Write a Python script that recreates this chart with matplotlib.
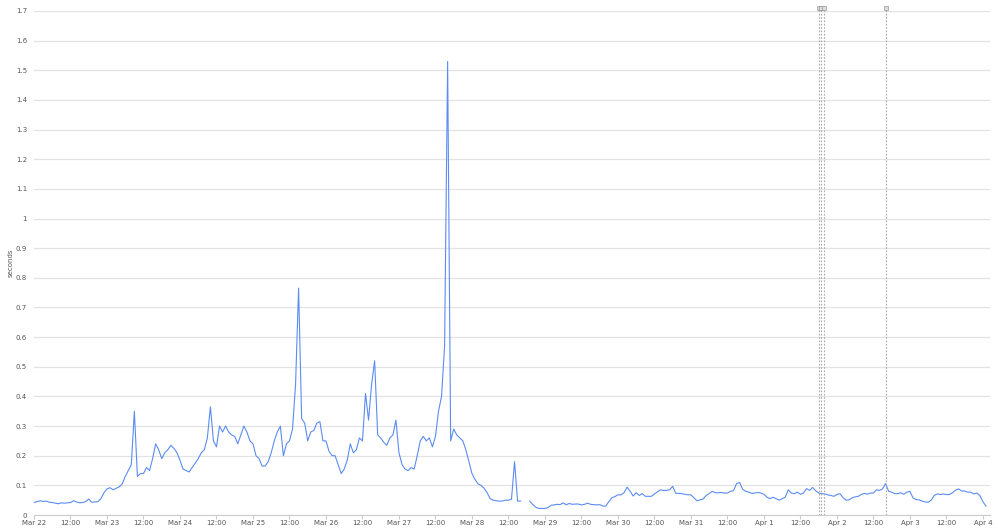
import numpy as np
import pandas as pd
import matplotlib
matplotlib.use("Agg")
import matplotlib.pyplot as plt
import matplotlib.dates as mdates
from matplotlib.ticker import FuncFormatter

nan = np.nan
# hourly response time (seconds), starting Mar 22 00:00
mar22 = [0.042, 0.045, 0.048, 0.046, 0.047, 0.043, 0.042, 0.040, 0.038, 0.041, 0.040, 0.041,
         0.042, 0.048, 0.044, 0.041, 0.042, 0.045, 0.054, 0.043, 0.044, 0.045, 0.055, 0.075]
mar23 = [0.088, 0.092, 0.085, 0.090, 0.095, 0.105, 0.130, 0.150, 0.170, 0.350, 0.130, 0.140,
         0.140, 0.160, 0.150, 0.190, 0.240, 0.220, 0.190, 0.210, 0.220, 0.235, 0.225, 0.210]
mar24 = [0.185, 0.155, 0.150, 0.145, 0.160, 0.175, 0.190, 0.210, 0.220, 0.260, 0.365, 0.250,
         0.230, 0.300, 0.280, 0.300, 0.280, 0.270, 0.265, 0.240, 0.270, 0.300, 0.280, 0.250]
mar25 = [0.240, 0.200, 0.190, 0.165, 0.165, 0.180, 0.210, 0.250, 0.280, 0.300, 0.200, 0.240,
         0.250, 0.290, 0.440, 0.765, 0.325, 0.310, 0.250, 0.280, 0.285, 0.310, 0.315, 0.250]
mar26 = [0.250, 0.215, 0.200, 0.200, 0.170, 0.140, 0.155, 0.185, 0.240, 0.210, 0.220, 0.260,
         0.250, 0.410, 0.320, 0.440, 0.520, 0.270, 0.260, 0.245, 0.235, 0.260, 0.270, 0.320]
mar27 = [0.210, 0.170, 0.155, 0.150, 0.160, 0.155, 0.200, 0.250, 0.265, 0.250, 0.260, 0.230,
         0.265, 0.350, 0.400, 0.570, 1.530, 0.250, 0.290, 0.270, 0.260, 0.250, 0.220, 0.180]
mar28 = [0.140, 0.120, 0.105, 0.100, 0.090, 0.075, 0.055, 0.050, 0.048, 0.047, 0.047, 0.050,
         0.050, 0.053, 0.180, 0.047, 0.047, nan, nan, 0.047, 0.035, 0.026, 0.022, 0.022]
mar29 = [0.022, 0.025, 0.033, 0.034, 0.036, 0.035, 0.041, 0.034, 0.039, 0.036, 0.037, 0.037,
         0.034, 0.036, 0.040, 0.036, 0.035, 0.034, 0.035, 0.030, 0.030, 0.045, 0.058, 0.062]
mar30 = [0.068, 0.068, 0.075, 0.094, 0.080, 0.064, 0.075, 0.066, 0.072, 0.063, 0.063, 0.063,
         0.071, 0.078, 0.085, 0.083, 0.083, 0.085, 0.097, 0.073, 0.073, 0.072, 0.070, 0.068]
mar31 = [0.068, 0.058, 0.048, 0.051, 0.054, 0.066, 0.072, 0.080, 0.075, 0.075, 0.076, 0.074,
         0.074, 0.080, 0.082, 0.106, 0.110, 0.087, 0.080, 0.077, 0.073, 0.074, 0.076, 0.074]
apr01 = [0.070, 0.060, 0.055, 0.060, 0.055, 0.050, 0.055, 0.060, 0.085, 0.074, 0.072, 0.077,
         0.070, 0.074, 0.089, 0.083, 0.093, 0.082, 0.074, 0.072, 0.071, 0.068, 0.066, 0.063]
apr02 = [0.069, 0.072, 0.059, 0.050, 0.051, 0.058, 0.061, 0.063, 0.069, 0.073, 0.070, 0.074,
         0.074, 0.085, 0.083, 0.088, 0.106, 0.080, 0.077, 0.072, 0.072, 0.075, 0.070, 0.077]
apr03 = [0.080, 0.058, 0.052, 0.051, 0.047, 0.044, 0.043, 0.050, 0.066, 0.071, 0.069, 0.071,
         0.069, 0.069, 0.075, 0.084, 0.088, 0.081, 0.081, 0.077, 0.077, 0.071, 0.074, 0.066]
apr04 = [0.045, 0.030]

values = mar22 + mar23 + mar24 + mar25 + mar26 + mar27 + mar28 + mar29 + mar30 + mar31 + apr01 + apr02 + apr03 + apr04
start = "2020-03-22 00:00"
annotations = ["2020-04-01 18:05", "2020-04-01 18:40", "2020-04-01 19:45", "2020-04-02 16:05"]
y_ticks = [round(0.1 * i, 1) for i in range(18)]
y_label = "seconds"

times = pd.date_range(start, periods=len(values), freq="h")

W, H = 998, 529
fig = plt.figure(figsize=(W / 100, H / 100), dpi=100)
ax = fig.add_axes([34 / W, 1 - 515 / H, (990 - 34) / W, (515 - 11) / H])

ax.plot(times, values, color="#5b8cf2", linewidth=0.8)

ax.set_ylim(0, 1.7)
ax.set_xlim(pd.Timestamp("2020-03-22 00:00"), pd.Timestamp("2020-04-04 02:20"))
ax.set_yticks(y_ticks)
ax.yaxis.set_major_formatter(FuncFormatter(lambda v, p: ("%g" % round(v, 1))))
ax.grid(axis="y", color="#e3e3e3", linewidth=0.9)
ax.set_axisbelow(True)

def xfmt(v, p):
    d = mdates.num2date(v)
    if d.hour == 0:
        return d.strftime("%b ") + str(d.day)
    return d.strftime("%H:%M")

ax.xaxis.set_major_locator(mdates.HourLocator(byhour=[0, 12]))
ax.xaxis.set_major_formatter(FuncFormatter(xfmt))

for s in ["top", "right", "left"]:
    ax.spines[s].set_visible(False)
ax.spines["bottom"].set_color("#cccccc")
ax.tick_params(axis="x", colors="#cccccc", labelcolor="#555555", labelsize=5, length=3, width=0.8, pad=0.8)
ax.tick_params(axis="y", length=0, labelcolor="#555555", labelsize=5, pad=5)

ax.set_ylabel(y_label, fontsize=5, color="#555555", labelpad=1)
ax.yaxis.set_label_coords(-20 / (990 - 34), 0.5)

for a in annotations:
    t = pd.Timestamp(a)
    ax.axvline(t, color="#aaaaaa", linestyle=(0, (1.5, 1.5)), linewidth=0.8, ymax=1.0065)
    ax.plot([t], [1.71], marker="s", markersize=3.5, markerfacecolor="#dddddd",
            markeredgecolor="#999999", markeredgewidth=0.5, clip_on=False, zorder=5)

fig.savefig("out.png", dpi=100)
